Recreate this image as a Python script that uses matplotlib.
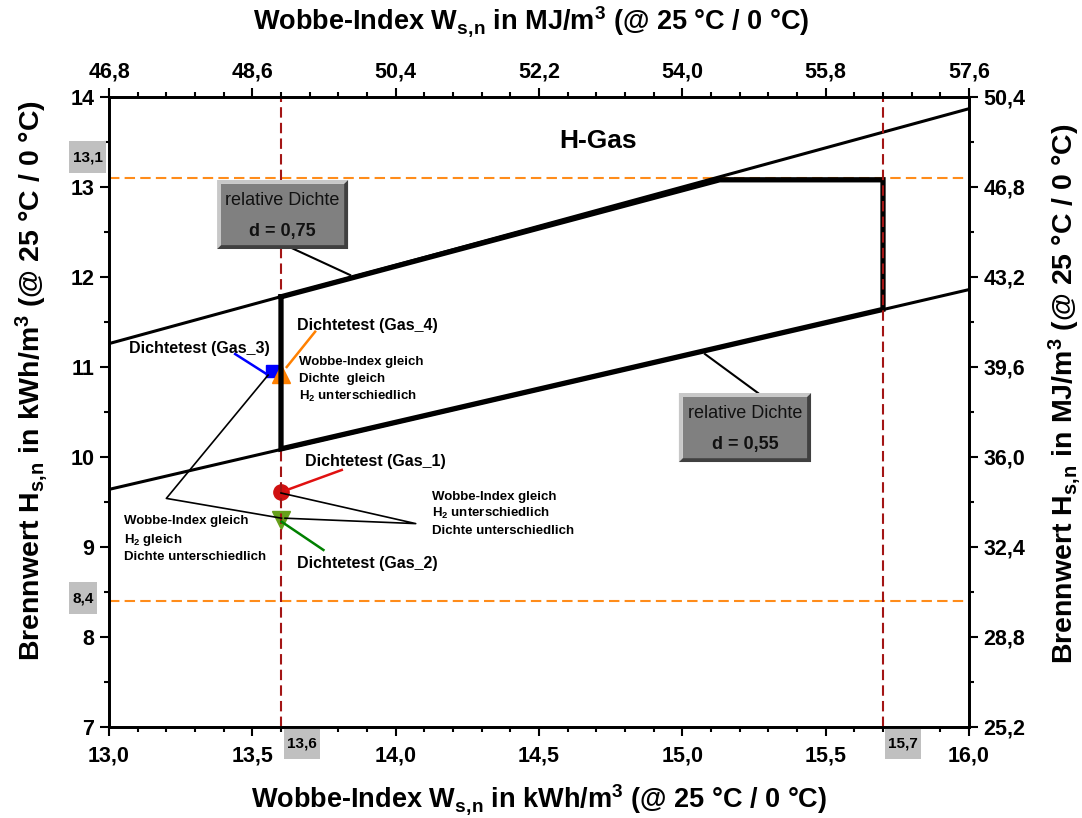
import matplotlib
matplotlib.use('Agg')
import matplotlib.pyplot as plt
from matplotlib.patches import Polygon, Rectangle

plt.rcParams['font.family'] = ['Liberation Sans', 'DejaVu Sans']
plt.rcParams['font.weight'] = 'bold'
plt.rcParams['mathtext.fontset'] = 'custom'
plt.rcParams['mathtext.rm'] = 'Liberation Sans:bold'
plt.rcParams['mathtext.it'] = 'Liberation Sans:bold'
plt.rcParams['mathtext.bf'] = 'Liberation Sans:bold'
plt.rcParams['mathtext.default'] = 'bf'

# ---- data ----
# relative density lines  H = W * sqrt(d)
d075_w = [13.0, 16.0]
d075_h = [11.26, 13.87]
d055_w = [13.0, 16.0]
d055_h = [9.64, 11.86]

# thick boundary of the allowed H-gas range
limit_w = [13.6, 13.6, 15.7, 15.7, 15.13, 13.6]
limit_h = [11.78, 10.09, 11.64, 13.08, 13.08, 11.78]

# limits
w_min, w_max = 13.6, 15.7
h_min, h_max = 8.4, 13.1

# density test gases
gas_names = ['Gas_1', 'Gas_2', 'Gas_3', 'Gas_4']
gas_w = [13.6, 13.6, 13.57, 13.6]
gas_h = [9.61, 9.30, 10.955, 10.92]
gas_marker = ['o', 'v', 's', '^']
gas_color = ['#d01010', '#66a01a', '#0000ff', '#ff8000']
leader_color = ['#e01010', '#008000', '#0000ff', '#ff8000']
gas_ms = [11, 13, 9, 13]

# axis ticks
x_ticks = [13.0, 13.5, 14.0, 14.5, 15.0, 15.5, 16.0]
x_labels = ['13,0', '13,5', '14,0', '14,5', '15,0', '15,5', '16,0']
y_ticks = [7, 8, 9, 10, 11, 12, 13, 14]
y_labels = ['7', '8', '9', '10', '11', '12', '13', '14']
top_ticks = [46.8, 48.6, 50.4, 52.2, 54.0, 55.8, 57.6]
top_labels = ['46,8', '48,6', '50,4', '52,2', '54,0', '55,8', '57,6']
right_ticks = [25.2, 28.8, 32.4, 36.0, 39.6, 43.2, 46.8, 50.4]
right_labels = ['25,2', '28,8', '32,4', '36,0', '39,6', '43,2', '46,8', '50,4']

fig = plt.figure(figsize=(10.82, 8.18), dpi=100)
ax = fig.add_axes([109 / 1082, 1 - 727 / 818, 860 / 1082, 630 / 818])
ax.set_xlim(13.0, 16.0)
ax.set_ylim(7, 14)

# density lines and thick range boundary
ax.plot(d075_w, d075_h, color='black', lw=2.2, zorder=3)
ax.plot(d055_w, d055_h, color='black', lw=2.2, zorder=3)
ax.plot(limit_w, limit_h, color='black', lw=3.8, zorder=4, solid_joinstyle='miter')

# dashed limit lines
for h in [h_min, h_max]:
    ax.axhline(h, color='#ff8c1a', lw=1.5, dashes=(5, 2.5), zorder=2)
ax.axvline(w_min, color='#a31515', lw=1.5, dashes=(5, 2.5), zorder=3.5)
ax.axvline(w_max, color='#a31515', lw=1.5, dashes=(5, 2.5), zorder=5)

# markers
for i in range(4):
    ax.plot(gas_w[i], gas_h[i], marker=gas_marker[i], color=gas_color[i],
            ms=gas_ms[i], mec=gas_color[i], ls='none', zorder=3)

# labels of the gases with coloured leader lines
gas_label_xy = [(13.684, 9.948), (13.657, 8.822), (13.071, 11.208), (13.657, 11.456)]
gas_leader = [((13.812, 9.856), (13.62, 9.633)),
              ((13.748, 8.967), (13.602, 9.281)),
              ((13.44, 11.144), (13.555, 10.911)),
              ((13.719, 11.392), (13.62, 11.0))]
for i in range(4):
    ax.text(gas_label_xy[i][0], gas_label_xy[i][1], 'Dichtetest (' + gas_names[i] + ')',
            fontsize=11.5, fontweight='bold', ha='left', va='center', zorder=6)
    (x0, y0), (x1, y1) = gas_leader[i]
    ax.plot([x0, x1], [y0, y1], color=leader_color[i], lw=1.8, zorder=4)

# black connector lines to the comment texts
ax.plot([13.555, 13.2, 13.602], [10.91, 9.54, 9.32], color='black', lw=1.2, zorder=4)
ax.plot([13.6, 14.07, 13.614], [9.60, 9.26, 9.32], color='black', lw=1.2, zorder=4)

groups = [
    (13.663, [11.059, 10.867, 10.678],
     ['Wobbe-Index gleich', 'Dichte  gleich', r'H$_2$ unterschiedlich']),
    (14.126, [9.559, 9.372, 9.178],
     ['Wobbe-Index gleich', r'H$_2$ unterschiedlich', 'Dichte unterschiedlich']),
    (13.053, [9.289, 9.083, 8.886],
     ['Wobbe-Index gleich', r'H$_2$ gleich', 'Dichte unterschiedlich']),
]
for gx, gys, lines in groups:
    for gy, line in zip(gys, lines):
        ax.text(gx, gy, line, fontsize=9.5, fontweight='bold', ha='left', va='center', zorder=6)

ax.text(14.706, 13.51, 'H-Gas', fontsize=19, fontweight='bold', ha='center', va='center')


def bevel_box(x0, x1, y0, y1, title, value):
    bx, by = 0.014, 0.044
    light = Polygon([(x0, y0), (x0, y1), (x1, y1), (x1 - bx, y1 - by),
                     (x0 + bx, y1 - by), (x0 + bx, y0 + by)],
                    closed=True, fc='#c8c8c8', ec='none', zorder=6)
    dark = Polygon([(x0, y0), (x1, y0), (x1, y1), (x1 - bx, y1 - by),
                    (x1 - bx, y0 + by), (x0 + bx, y0 + by)],
                   closed=True, fc='#404040', ec='none', zorder=6)
    inner = Rectangle((x0 + bx, y0 + by), x1 - x0 - 2 * bx, y1 - y0 - 2 * by,
                      fc='#808080', ec='none', zorder=6)
    ax.add_patch(light)
    ax.add_patch(dark)
    ax.add_patch(inner)
    xc = (x0 + x1) / 2
    h = y1 - y0
    ax.text(xc, y1 - 0.30 * h, title, fontsize=13, fontweight='normal',
            ha='center', va='center', color='#111111', zorder=7)
    ax.text(xc, y1 - 0.75 * h, value, fontsize=13, fontweight='bold',
            ha='center', va='center', color='#111111', zorder=7)


bevel_box(13.377, 13.834, 12.311, 13.078, 'relative Dichte', 'd = 0,75')
ax.plot([13.637, 13.841], [12.322, 12.022], color='black', lw=1.5, zorder=4)
bevel_box(14.988, 15.449, 9.944, 10.711, 'relative Dichte', 'd = 0,55')
ax.plot([15.264, 15.079], [10.711, 11.144], color='black', lw=1.5, zorder=4)

# grey value boxes outside the axes
value_boxes = [
    ((12.8605, 13.156), 0.129, 0.355, (12.925, 13.333), '13,1'),
    ((12.8605, 8.256), 0.0975, 0.355, (12.909, 8.433), '8,4'),
    ((13.610, 6.644), 0.126, 0.356, (13.673, 6.822), '13,6'),
    ((15.707, 6.644), 0.126, 0.356, (15.770, 6.822), '15,7'),
]
for (bx0, by0), bw, bh, (tx, ty), txt in value_boxes:
    ax.add_patch(Rectangle((bx0, by0), bw, bh, fc='#c0c0c0', ec='none',
                           clip_on=False, zorder=10))
    ax.text(tx, ty, txt, fontsize=11, fontweight='bold', ha='center', va='center',
            clip_on=False, zorder=11)

# ticks
ax.set_xticks(x_ticks, x_labels)
ax.set_yticks(y_ticks, y_labels)
ax.set_xticks([13.0 + 0.1 * i for i in range(31)], minor=True)
ax.set_yticks([7 + 0.5 * i for i in range(15)], minor=True)

ax_top = ax.twiny()
ax_top.set_xlim(46.8, 57.6)
ax_top.set_xticks(top_ticks, top_labels)
ax_top.set_xticks([46.8 + 0.36 * i for i in range(31)], minor=True)

ax_r = ax.twinx()
ax_r.set_ylim(25.2, 50.4)
ax_r.set_yticks(right_ticks, right_labels)
ax_r.set_yticks([25.2 + 1.8 * i for i in range(15)], minor=True)

for a in [ax, ax_top, ax_r]:
    for s in a.spines.values():
        s.set_linewidth(1.8)
    a.tick_params(which='major', direction='out', length=6.5, width=1.5,
                  labelsize=15.5, pad=4)
    a.tick_params(which='minor', direction='out', length=3.5, width=1.5)
    for lab in a.get_xticklabels() + a.get_yticklabels():
        lab.set_fontweight('bold')
ax.tick_params(axis='x', pad=7)

sub = r'$_{s,\!n}$'
fig.text(539 / 1082, 1 - 800 / 818, 'Wobbe-Index W' + sub + r' in kWh/m$^3$ (@ 25 °C / 0 °C)',
         fontsize=19.5, fontweight='bold', ha='center', va='center')
fig.text(531 / 1082, 1 - 22 / 818, 'Wobbe-Index W' + sub + r' in MJ/m$^3$ (@ 25 °C / 0 °C)',
         fontsize=19.5, fontweight='bold', ha='center', va='center')
fig.text(32 / 1082, 1 - 381 / 818, 'Brennwert H' + sub + r' in kWh/m$^3$ (@ 25 °C / 0 °C)',
         fontsize=20.5, fontweight='bold', ha='center', va='center', rotation=90)
fig.text(1065 / 1082, 1 - 394 / 818, 'Brennwert H' + sub + r' in MJ/m$^3$ (@ 25 °C / 0 °C)',
         fontsize=20.5, fontweight='bold', ha='center', va='center', rotation=90)

fig.savefig('out.png', dpi=100)
